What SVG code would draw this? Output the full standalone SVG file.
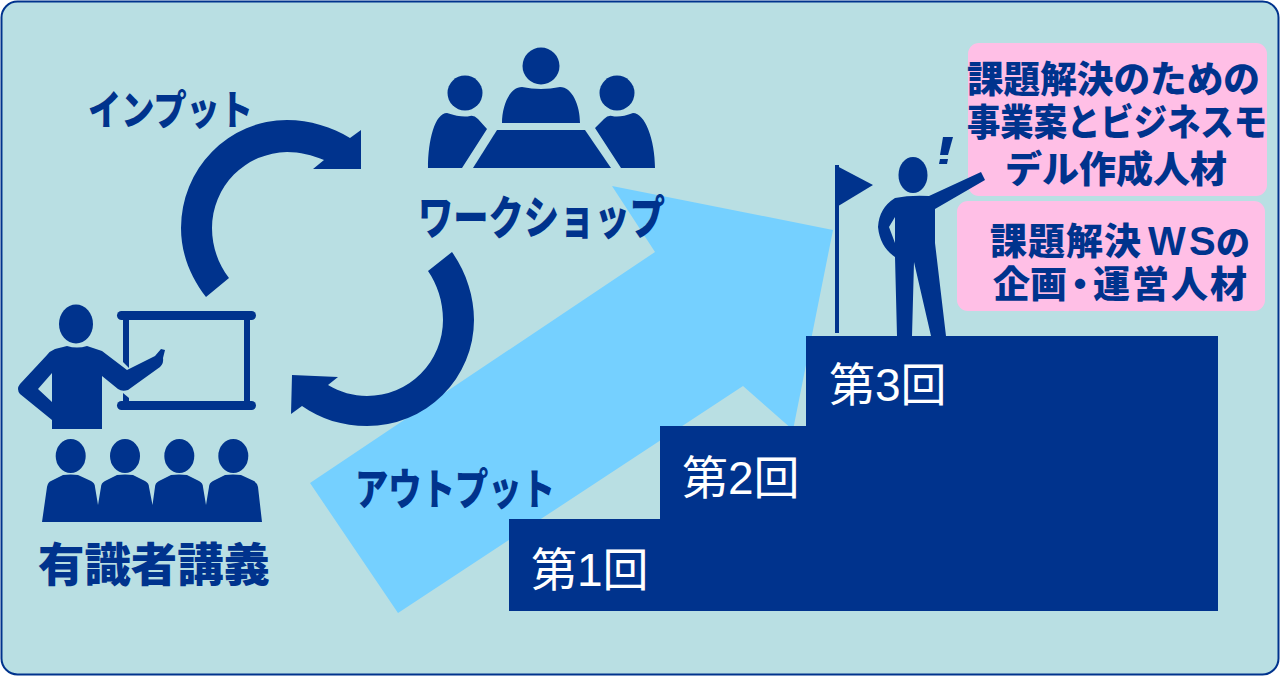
<svg xmlns="http://www.w3.org/2000/svg" width="1280" height="677" viewBox="0 0 1280 677">
<style>
.d{fill:#00338d}
.t{font-family:"Noto Sans CJK JP","Liberation Sans",sans-serif;font-weight:900;fill:#00338d}
.s{font-family:"Liberation Sans","Noto Sans CJK JP",sans-serif;font-size:46px;fill:#fff}
.p{fill:#ffbfe6}
</style>
<rect x="1.5" y="1.5" width="1277" height="673" rx="16" fill="#b9dfe3" stroke="#00338d" stroke-width="2"/>
<polygon id="growth-arrow" points="612,186 833,230 793,430 743,386 398,613 310,483 655,252" fill="#75d0ff"/>
<g id="steps">
<path class="d" d="M509,611V519H660V426H806V336H1218V611Z"/>
<text class="s" x="531" y="586">第1回</text>
<text class="s" x="682" y="494">第2回</text>
<text class="s" x="829" y="401">第3回</text>
</g>
<g id="connectors">
<path class="d" d="M206,297C191,278 181,254 181,228A106,108 0 0 1 287,120C310,120 332,127 350,138L361,130V169H313L324,160C312,155 300,152 287,152A76,76 0 0 0 212,228C212,246 218,264 229,278Z"/>
<path class="d" d="M452,252C466,272 474,296 474,320A107,106 0 0 1 367,426C343,426 320,419 302,406L291,414L292,375L338,377L328,385C340,392 353,396 367,396A76,76 0 0 0 443,320C443,301 437,284 428,271Z"/>
<text class="t" x="88" y="125" font-size="41" textLength="165" lengthAdjust="spacingAndGlyphs">インプット</text>
<text class="t" x="355" y="505" font-size="43" textLength="200" lengthAdjust="spacingAndGlyphs">アウトプット</text>
</g>
<g id="lecture">
<rect class="d" x="117" y="311" width="139" height="9" rx="4.5"/>
<rect class="d" x="117" y="401" width="139" height="9" rx="4.5"/>
<rect class="d" x="244" y="318" width="6" height="86"/>
<polygon class="d" points="123,318 129,318 129,368 123,362"/>
<polygon class="d" points="123,393 129,398 129,404 123,404"/>
<ellipse class="d" cx="76" cy="324" rx="17" ry="19.5"/>
<path class="d" d="M67,346Q77,349 87,346L102,351L127,370L155,356L161,349L165,350L163,358Q164,363 160,367L128,390Q122,392 118,389L102,376V429H52V420L20,394Q16,389 20,384L47,355Q50,351 55,349ZM52,373L38,389L52,402Z" fill-rule="evenodd"/>
<g id="audience">
<ellipse class="d" cx="70.7" cy="456" rx="15" ry="17"/><ellipse class="d" cx="125" cy="456" rx="15" ry="17"/><ellipse class="d" cx="179.3" cy="456" rx="15" ry="17"/><ellipse class="d" cx="233.3" cy="456" rx="15" ry="17"/>
<path class="d" d="M42,522L47,487Q48,482 51,481L63,475Q71,474 78,475L91,481Q95,483 95,487L98,505L101,487Q101,483 105,481L117,475Q125,474 133,475L145,481Q149,483 149,487L152.500,505L155,487Q155,483 159,481L171,475Q179,474 187,475L199,481Q203,483 203,487L206,505L209,487Q209,483 213,481L225,475Q233,474 241,475L254,481Q257,483 258,487L262,522Z"/>
</g>
<text class="t" x="38" y="581" font-size="46" textLength="232" lengthAdjust="spacingAndGlyphs">有識者講義</text>
</g>
<g id="workshop">
<circle class="d" cx="541" cy="66" r="18.500"/><circle class="d" cx="465" cy="93" r="17.500"/><circle class="d" cx="617" cy="93" r="17.500"/>
<path class="d" d="M502,123C502,105 510,87 522,87Q541,91 560,87C572,87 580,105 580,123Z"/>
<polygon class="d" points="497,130 585,130 611,168 473,168"/>
<path class="d" d="M428,168C428,140 435,113 447,113Q462,118 470,116Q474,115 478,119L487,129L462,168Z"/>
<path class="d" d="M655,168C655,140 645,113 633,113Q620,118 612,116Q608,115 604,119L595,128L621,168Z"/>
<text class="t" x="418" y="234" font-size="46" textLength="247" lengthAdjust="spacingAndGlyphs">ワークショップ</text>
</g>
<g id="goal-person">
<rect class="d" x="835" y="165" width="4" height="168"/>
<polygon class="d" points="835,165 873,185 835,208"/>
<ellipse class="d" cx="913" cy="175" rx="14.500" ry="18"/>
<polygon class="d" points="943,137 953,137 948,155 940,155"/>
<polygon class="d" points="940,159 948,159 947,164 939,164"/>
</g>
<g id="outcomes">
<rect class="p" x="968" y="43" width="299" height="153" rx="11"/>
<rect class="p" x="957" y="201" width="308" height="110" rx="11"/>
<text class="t" x="967" y="93" font-size="37" textLength="293" lengthAdjust="spacingAndGlyphs">課題解決のための</text>
<text class="t" x="967" y="136" font-size="37" textLength="300" lengthAdjust="spacingAndGlyphs">事業案とビジネスモ</text>
<text class="t" x="1005" y="183" font-size="37" textLength="222" lengthAdjust="spacingAndGlyphs">デル作成人材</text>
<text class="t" y="255" font-size="37"><tspan x="990" letter-spacing="1">課題解決</tspan><tspan x="1148" font-family="Liberation Sans" font-weight="700" font-size="40">W</tspan><tspan x="1189" font-family="Liberation Sans" font-weight="700" font-size="40">S</tspan><tspan x="1216" font-size="34">の</tspan></text>
<text class="t" y="298" font-size="37"><tspan x="993">企画</tspan><tspan x="1061.500">・</tspan><tspan x="1093" letter-spacing="2">運営人材</tspan></text>
</g>
<path class="d" d="M929,196L981,172L985,180L935,209V243L946,336H931L914,262L912,336H897L895,257Q880,247 878,227Q879,208 895,198Q910,195 929,196ZM895,217L889,227L895,243Z" fill-rule="evenodd"/>
</svg>
